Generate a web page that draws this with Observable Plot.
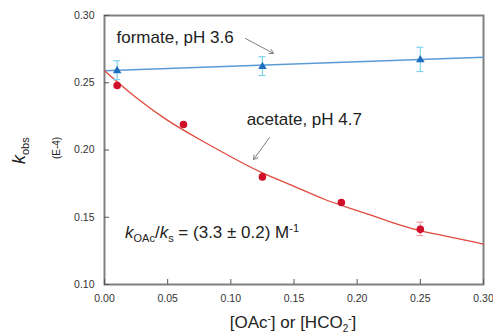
<!DOCTYPE html>
<html>
<head>
<meta charset="utf-8">
<script src="https://cdn.jsdelivr.net/npm/d3@7"></script>
<script src="https://cdn.jsdelivr.net/npm/@observablehq/plot@0.6"></script>
<style>
  html, body { margin: 0; padding: 0; background: #fff; }
  #chart { width: 493px; height: 334px; }
  svg { font-family: "Liberation Sans", Arial, sans-serif; }
</style>
</head>
<body>
<div id="chart"></div>
<script>
// Formate, pH 3.6 (triangles)
const formateX = [0.01, 0.125, 0.25];
const formateY = [0.259, 0.262, 0.267];
const formateErr = [0.007, 0.007, 0.009];
// Formate linear fit (at its ends)
const formateFitX = [0, 0.30];
const formateFitY = [0.259, 0.269];

// Acetate, pH 4.7 (circles)
const acetateX = [0.01, 0.0625, 0.125, 0.1875, 0.25];
const acetateY = [0.248, 0.219, 0.180, 0.161, 0.141];
const acetateErr = [0.0, 0.0, 0.0, 0.0, 0.005];
// Acetate fit curve
const acetateFitX = [0, 0.025, 0.05, 0.075, 0.10, 0.125, 0.15, 0.175, 0.20, 0.225, 0.25, 0.275, 0.30];
const acetateFitY = [0.259, 0.239, 0.222, 0.208, 0.195, 0.183, 0.173, 0.163, 0.155, 0.147, 0.140, 0.135, 0.130];

const xTicks = [0, 0.05, 0.10, 0.15, 0.20, 0.25, 0.30];
const yTicks = [0.10, 0.15, 0.20, 0.25, 0.30];

const formate = formateX.map((x, i) => ({x, y: formateY[i], e: formateErr[i]}));
const acetate = acetateX.map((x, i) => ({x, y: acetateY[i], e: acetateErr[i]}));
const formateFit = formateFitX.map((x, i) => ({x, y: formateFitY[i]}));
const acetateFit = acetateFitX.map((x, i) => ({x, y: acetateFitY[i]}));

const arrows = [
  {x1: 0.1116, y1: 0.2829, x2: 0.1338, y2: 0.2718},
  {x1: 0.1306, y1: 0.2093, x2: 0.1180, y2: 0.1929}
];

const plot = Plot.plot({
  width: 493,
  height: 334,
  marginLeft: 104,
  marginRight: 10,
  marginTop: 15,
  marginBottom: 50,
  style: {fontFamily: "Liberation Sans, Arial, sans-serif", background: "#fff"},
  x: {type: "linear", domain: [0, 0.30]},
  y: {type: "linear", domain: [0.10, 0.30]},
  marks: [
    Plot.frame({stroke: "#808080", strokeWidth: 2}),
    Plot.axisX({ticks: xTicks, tickFormat: d3.format(".2f"), tickSize: -5, tickPadding: 15, fontSize: 10.5, color: "#333", stroke: "#555", label: null}),
    Plot.axisY({ticks: yTicks, tickFormat: d3.format(".2f"), tickSize: -5, tickPadding: 15, fontSize: 10.5, color: "#333", stroke: "#555", label: null}),
    // formate
    Plot.line(formateFit, {x: "x", y: "y", stroke: "#5b9bd5", strokeWidth: 1.5}),
    Plot.ruleX(formate, {x: "x", y1: d => d.y - d.e, y2: d => d.y + d.e, stroke: "#7fd3ea", strokeWidth: 1.2}),
    Plot.dot(formate, {x: "x", y: "y", symbol: "triangle", r: 3.2, fill: "#1f6fc0", stroke: "none"}),
    // acetate
    Plot.line(acetateFit, {x: "x", y: "y", curve: "natural", stroke: "#e04a3c", strokeWidth: 1.3}),
    Plot.ruleX(acetate.filter(d => d.e > 0), {x: "x", y1: d => d.y - d.e, y2: d => d.y + d.e, stroke: "#f0a0a8", strokeWidth: 1.2}),
    Plot.dot(acetate, {x: "x", y: "y", r: 3.8, fill: "#d0102a", stroke: "none"}),
    // annotations
    Plot.arrow(arrows, {x1: "x1", y1: "y1", x2: "x2", y2: "y2", stroke: "#808080", strokeWidth: 1, headLength: 7, bend: 0}),
    Plot.text(["formate, pH 3.6"], {x: 0.0095, y: 0.2795, text: d => d, textAnchor: "start", fontSize: 17, fill: "#222", lineAnchor: "bottom"}),
    Plot.text(["acetate, pH 4.7"], {x: 0.1125, y: 0.2185, text: d => d, textAnchor: "start", fontSize: 17, fill: "#222", lineAnchor: "bottom"})
  ]
});

document.getElementById("chart").appendChild(plot);

const svg = d3.select(plot);
const xs = plot.scale("x"), ys = plot.scale("y");
const X = v => xs.apply(v), Y = v => ys.apply(v);

// error-bar caps
function caps(data, color) {
  data.filter(d => d.e > 0).forEach(d => {
    [d.y - d.e, d.y + d.e].forEach(v => {
      svg.append("line").attr("x1", X(d.x) - 3.5).attr("x2", X(d.x) + 3.5)
        .attr("y1", Y(v)).attr("y2", Y(v)).attr("stroke", color).attr("stroke-width", 1.2);
    });
  });
}
caps(formate, "#7fd3ea");
caps(acetate, "#f0a0a8");

// formula annotation
const f = svg.append("text").attr("x", 125).attr("y", 238).attr("text-anchor", "start").attr("font-size", 17).attr("fill", "#222");
f.append("tspan").attr("font-style", "italic").text("k");
f.append("tspan").attr("font-size", 11).attr("dy", 4).text("OAc");
f.append("tspan").attr("dy", -4).text("/");
f.append("tspan").attr("font-style", "italic").text("k");
f.append("tspan").attr("font-size", 11).attr("dy", 4).text("s");
f.append("tspan").attr("dy", -4).text(" = (3.3 \u00b1 0.2) M");
f.append("tspan").attr("font-size", 11).attr("dy", -6).text("-1");

// x label
const xl = svg.append("text").attr("x", 293).attr("y", 328).attr("text-anchor", "middle").attr("font-size", 17).attr("fill", "#222");
xl.append("tspan").text("[OAc");
xl.append("tspan").attr("font-size", 10).attr("dy", -6).text("-");
xl.append("tspan").attr("dy", 6).text("] or [HCO");
xl.append("tspan").attr("font-size", 10).attr("dy", 4).text("2");
xl.append("tspan").attr("font-size", 10).attr("dy", -10).text("-");
xl.append("tspan").attr("dy", 6).text("]");

// y label
const yl = svg.append("text").attr("transform", "translate(25,164) rotate(-90)").attr("text-anchor", "start").attr("font-size", 18).attr("fill", "#222");
yl.append("tspan").attr("font-style", "italic").text("k");
yl.append("tspan").attr("font-size", 11).attr("dy", 4).text("obs");
svg.append("text").attr("transform", "translate(60,148) rotate(-90)").attr("text-anchor", "middle")
  .attr("font-size", 10).attr("fill", "#222").text("(E-4)");
</script>
</body>
</html>
